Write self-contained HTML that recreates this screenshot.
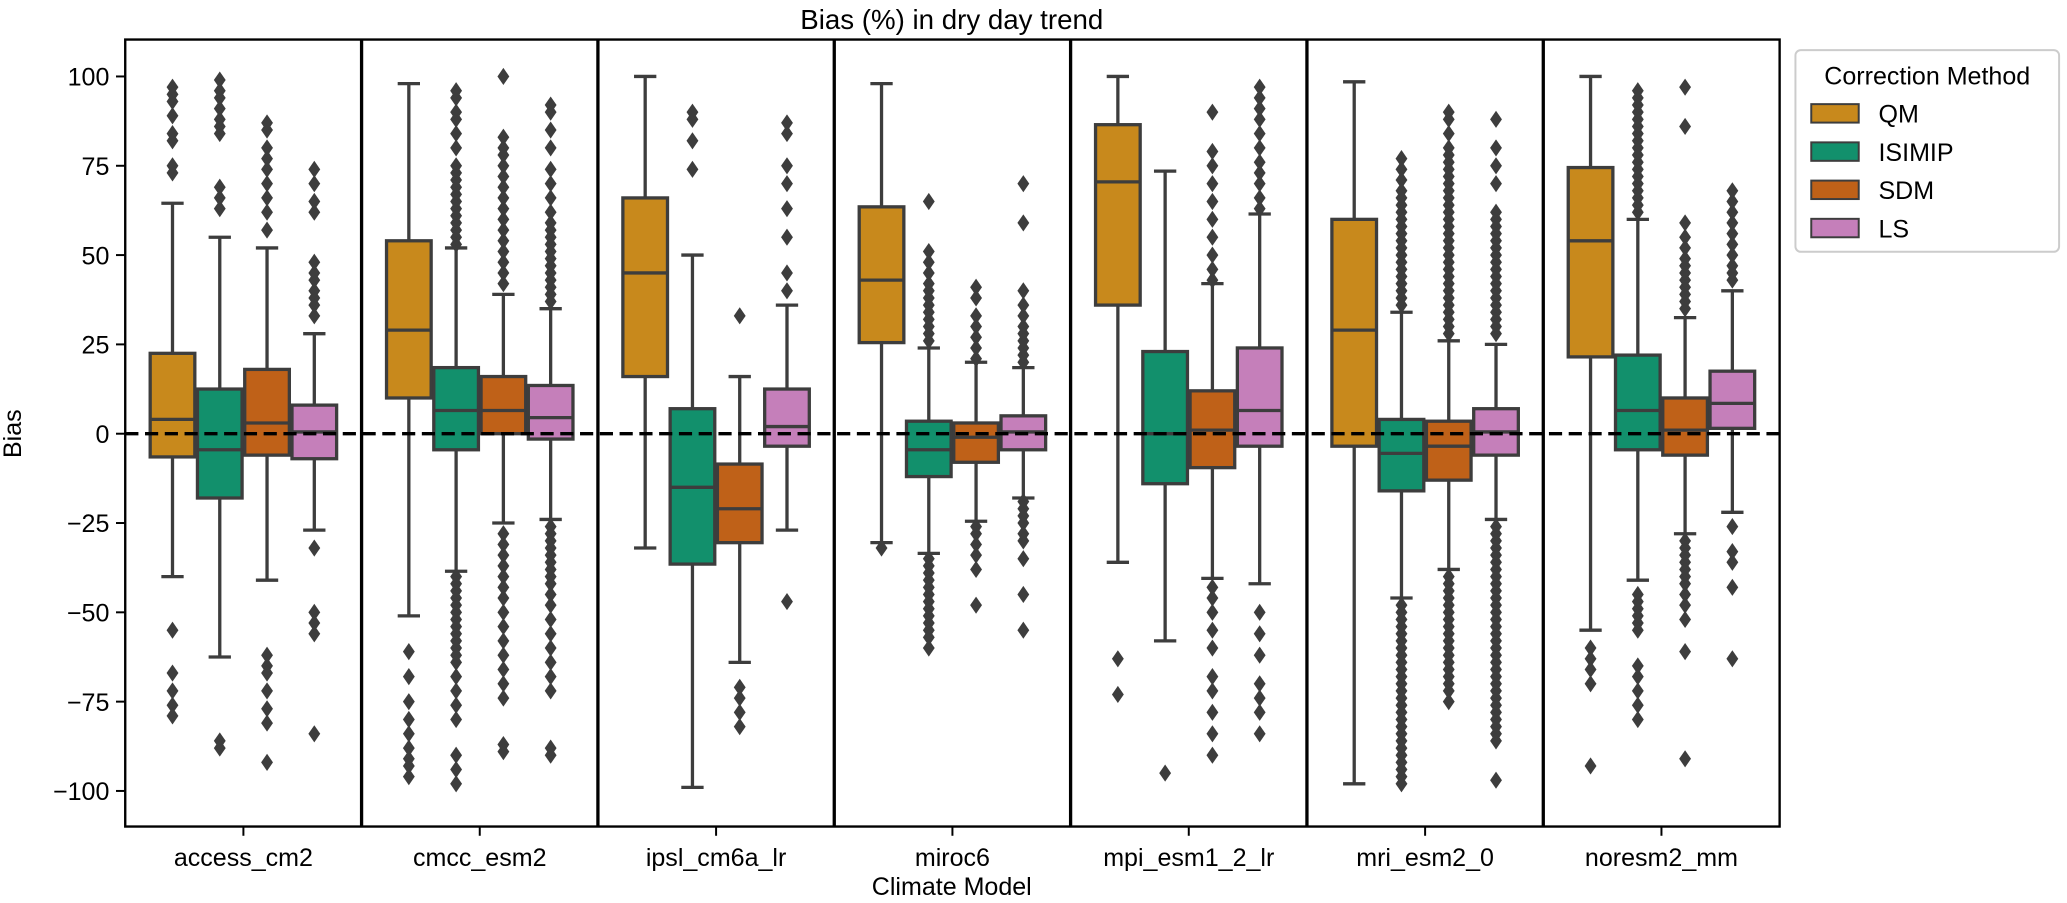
<!DOCTYPE html>
<html><head><meta charset="utf-8"><style>
html,body{margin:0;padding:0;background:#fff;}
svg{display:block;font-family:"Liberation Sans","DejaVu Sans",sans-serif;}
</style></head><body>
<svg id="chart" width="2067" height="903" viewBox="0 0 1568 685" preserveAspectRatio="none" xmlns="http://www.w3.org/2000/svg">
<text x="722" y="22" font-size="21" text-anchor="middle">Bias (%) in dry day trend</text>
<text x="0" y="0" font-size="19" text-anchor="middle" transform="translate(16,329) rotate(-90)">Bias</text>
<text x="722" y="679" font-size="19" text-anchor="middle">Climate Model</text>
<g id="plot"></g>
<g>
<rect x="1362" y="38" width="200" height="153" rx="4" fill="#fff" stroke="#ccc" stroke-width="1.5"/>
<text x="1462" y="64" font-size="19" text-anchor="middle">Correction Method</text>
<g id="legend-entries"></g>
</g>
</svg>
<script>
const models = ["access_cm2","cmcc_esm2","ipsl_cm6a_lr","miroc6","mpi_esm1_2_lr","mri_esm2_0","noresm2_mm"];
const hues = ["QM","ISIMIP","SDM","LS"];
const hueColors = ["#c8891c","#12906c","#bf6118","#c57fba"];
const yTicks = [100,75,50,25,0,-25,-50,-75,-100];
const whiskLo = {QM:[-40,-51,-32,-30.5,-36,-98,-55],ISIMIP:[-62.5,-38.5,-99,-33.5,-58,-46,-41],SDM:[-41,-25,-64,-24.5,-40.5,-38,-28],LS:[-27,-24,-27,-18,-42,-24,-22]};
const q1 = {QM:[-6.5,10,16,25.5,36,-3.5,21.5],ISIMIP:[-18,-4.5,-36.5,-12,-14,-16,-4.5],SDM:[-6,0,-30.5,-8,-9.5,-13,-6],LS:[-7,-1.5,-3.5,-4.5,-3.5,-6,1.5]};
const med = {QM:[4,29,45,43,70.5,29,54],ISIMIP:[-4.5,6.5,-15,-4.5,0,-5.5,6.5],SDM:[3,6.5,-21,-1,1,-3.5,1],LS:[0.5,4.5,2,0.5,6.5,0.5,8.5]};
const q3 = {QM:[22.5,54,66,63.5,86.5,60,74.5],ISIMIP:[12.5,18.5,7,3.5,23,4,22],SDM:[18,16,-8.5,3,12,3.5,10],LS:[8,13.5,12.5,5,24,7,17.5]};
const whiskHi = {QM:[64.5,98,100,98,100,98.5,100],ISIMIP:[55,52,50,24,73.5,34,60],SDM:[52,39,16,20,42,26,32.5],LS:[28,35,36,18.5,61.5,25,40]};
const outliers = {
QM:[[73,75,82,84,89,93,95,97,-55,-67,-72,-76,-79],[-61,-68,-75,-80,-84,-88,-91,-93,-96],[],[-32],[-63,-73],[],[-60,-63,-66,-70,-93]],
ISIMIP:[[63,66,69,84,86,88,91,94,96,99,-86,-88],
 [53,55,57,59,61,63,65,67,69,71,73,75,80,84,88,90,94,96,-40,-42,-44,-46,-48,-50,-52,-54,-56,-58,-60,-62,-64,-68,-72,-76,-80,-90,-94,-98],
 [74,82,88,90],
 [26,28,30,32,34,36,38,40,42,45,48,51,65,-35,-37,-39,-41,-43,-45,-47,-49,-51,-53,-55,-57,-60],
 [-95],
 [36,38,40,42,44,46,48,50,52,54,56,58,60,62,64,66,68,71,74,77,-48,-50,-52,-54,-56,-58,-60,-62,-64,-66,-68,-70,-72,-74,-76,-78,-80,-82,-84,-86,-88,-90,-92,-94,-96,-98],
 [62,64,66,68,70,72,74,76,78,80,82,84,86,88,90,92,94,96,-45,-47,-49,-51,-53,-55,-65,-68,-72,-76,-80]],
SDM:[[57,62,66,70,74,77,80,85,87,-62,-65,-67,-72,-77,-81,-92],
 [42,45,48,51,54,57,60,63,66,69,72,75,78,80,83,100,-28,-31,-34,-37,-40,-43,-46,-50,-54,-58,-62,-66,-70,-74,-87,-89],
 [33,-71,-74,-78,-82],
 [21,24,27,30,33,38,41,-26,-28,-31,-34,-38,-48],
 [43,46,50,55,60,65,70,75,79,90,-43,-46,-50,-55,-60,-68,-72,-78,-84,-90],
 [28,30,32,34,36,38,40,42,44,46,48,50,52,54,56,58,60,62,64,66,68,70,72,74,76,78,80,84,88,90,-40,-42,-44,-46,-48,-50,-52,-54,-56,-58,-60,-62,-64,-66,-68,-70,-72,-75],
 [35,37,39,41,43,45,47,49,52,55,59,86,97,-30,-32,-34,-36,-38,-40,-42,-45,-48,-52,-61,-91]],
LS:[[33,36,38,40,43,45,48,62,65,70,74,-32,-50,-53,-56,-84],
 [37,39,41,43,45,47,49,51,53,55,57,59,62,66,70,74,80,85,90,92,-26,-28,-30,-32,-34,-36,-38,-40,-42,-45,-48,-52,-56,-60,-64,-68,-72,-88,-90],
 [40,45,55,63,70,75,84,87,-47],
 [20,22,24,26,28,30,33,36,40,59,70,-19,-21,-23,-25,-28,-30,-35,-45,-55],
 [63,66,70,73,76,80,84,88,91,94,97,-50,-56,-62,-70,-74,-78,-84],
 [28,30,32,34,36,38,40,42,44,46,48,50,52,54,56,58,60,62,70,75,80,88,-26,-28,-30,-32,-34,-36,-38,-40,-42,-44,-46,-48,-50,-52,-54,-56,-58,-60,-62,-64,-66,-68,-70,-72,-74,-76,-78,-80,-82,-84,-86,-97],
 [43,45,47,50,53,56,59,62,65,68,-26,-33,-36,-43,-63]]
};

const NS="http://www.w3.org/2000/svg";
const L=95,R=1350,T=30,B=627;
const groupW=(R-L)/models.length;
const boxW=groupW*0.8/hues.length;
function yS(v){return 329 - v*2.71;}
function xC(i){return L+groupW*(i+0.5);}
function xH(i,h){return xC(i)+(h-(hues.length-1)/2)*boxW;}
const plot=document.getElementById('plot');
function mk(tag,attrs,parent){const e=document.createElementNS(NS,tag);for(const k in attrs)e.setAttribute(k,attrs[k]);(parent||plot).appendChild(e);return e;}
const ec="#3d3d3d";
models.forEach((m,i)=>{
  hues.forEach((h,j)=>{
    const g=mk('g',{});
    
    
    const cx=xH(i,j), w=boxW-2;
    mk('line',{x1:cx,x2:cx,y1:yS(whiskHi[h][i]),y2:yS(q3[h][i]),stroke:ec,'stroke-width':2.5},g);
    mk('line',{x1:cx,x2:cx,y1:yS(q1[h][i]),y2:yS(whiskLo[h][i]),stroke:ec,'stroke-width':2.5},g);
    mk('line',{x1:cx-w/4,x2:cx+w/4,y1:yS(whiskHi[h][i]),y2:yS(whiskHi[h][i]),stroke:ec,'stroke-width':2.5},g);
    mk('line',{x1:cx-w/4,x2:cx+w/4,y1:yS(whiskLo[h][i]),y2:yS(whiskLo[h][i]),stroke:ec,'stroke-width':2.5},g);
    mk('rect',{x:cx-w/2,y:yS(q3[h][i]),width:w,height:yS(q1[h][i])-yS(q3[h][i]),fill:hueColors[j],stroke:ec,'stroke-width':2.5},g);
    mk('line',{x1:cx-w/2,x2:cx+w/2,y1:yS(med[h][i]),y2:yS(med[h][i]),stroke:ec,'stroke-width':2.5},g);
    outliers[h][i].forEach(v=>{
      const y=yS(v);
      const d=mk('path',{d:`M${cx} ${y-6.5} L${cx+4.5} ${y} L${cx} ${y+6.5} L${cx-4.5} ${y} Z`,fill:ec},g);
      
      
    });
  });
  if(i>0){
    const s=mk('line',{x1:L+groupW*i,x2:L+groupW*i,y1:T,y2:B,stroke:'#000','stroke-width':2.5});
    
    
  }
  const t=mk('line',{x1:xC(i),x2:xC(i),y1:B,y2:B+7,stroke:'#000','stroke-width':1.5});
  
  
  const lb=mk('text',{x:xC(i),y:B+30,'font-size':19,'text-anchor':'middle'});
  lb.textContent=m;
  
  
});
yTicks.forEach(v=>{
  const t=mk('line',{x1:L-7,x2:L,y1:yS(v),y2:yS(v),stroke:'#000','stroke-width':1.5});
  
  
  const lb=mk('text',{x:L-12,y:yS(v)+7,'font-size':19,'text-anchor':'end'});
  lb.textContent=(v<0?'\u2212'+(-v):String(v));
  
  
});
const z=mk('line',{x1:L,x2:R,y1:yS(0),y2:yS(0),stroke:'#000','stroke-width':2.5,'stroke-dasharray':'10,5'});


const fr=mk('rect',{x:L,y:T,width:R-L,height:B-T,fill:'none',stroke:'#000','stroke-width':1.8});


const le=document.getElementById('legend-entries');
hues.forEach((h,j)=>{
  const y=79+j*29;
  const r=mk('rect',{x:1374,y:y,width:36,height:14,fill:hueColors[j],stroke:ec,'stroke-width':1.5},le);
  
  
  const t=mk('text',{x:1425,y:y+14,'font-size':19},le);
  t.textContent=h;
  
  
});
</script>
</body></html>
